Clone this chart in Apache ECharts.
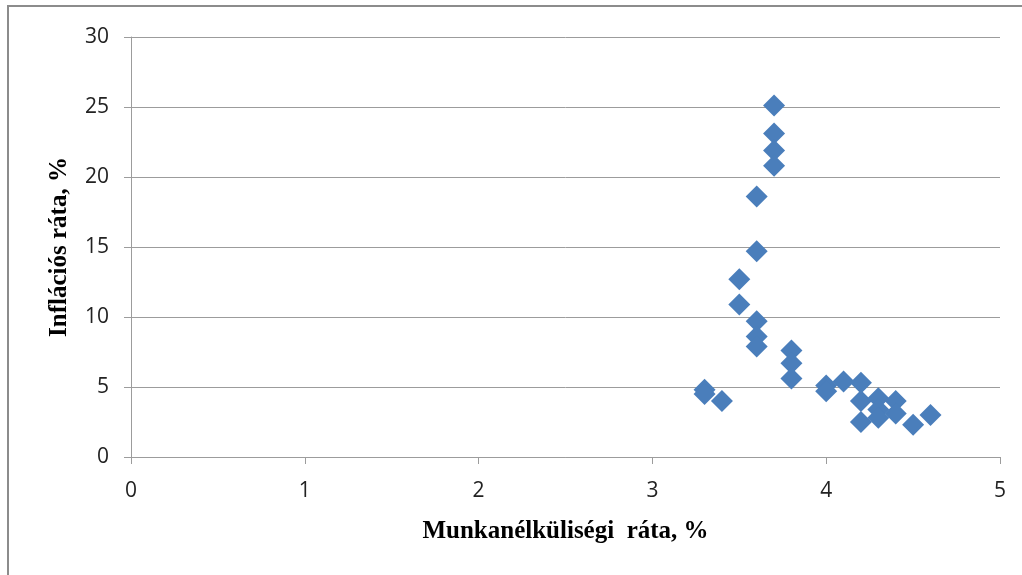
<!DOCTYPE html>
<html>
<head>
<meta charset="utf-8">
<style>html,body{margin:0;padding:0;background:#fff}#c{width:1022px;height:575px}</style>
<script src="https://cdn.jsdelivr.net/npm/echarts@6/dist/echarts.min.js"></script>
</head>
<body>
<div id="c"></div>
<script>
// Unemployment rate (%) and inflation rate (%) pairs
const unemployment = [3.7, 3.7, 3.7, 3.7, 3.6, 3.6, 3.6, 3.6, 3.6, 3.5, 3.5, 3.8, 3.8, 3.8, 3.3, 3.3, 3.4, 4.0, 4.0, 4.1, 4.2, 4.2, 4.2, 4.3, 4.3, 4.3, 4.4, 4.4, 4.5, 4.6];
const inflation    = [25.1, 23.1, 21.9, 20.8, 18.6, 14.7, 9.7, 8.6, 7.9, 12.7, 10.9, 7.6, 6.7, 5.6, 4.8, 4.5, 4.0, 5.1, 4.7, 5.4, 5.3, 4.0, 2.5, 4.2, 3.4, 2.8, 4.0, 3.1, 2.3, 3.0];
const xTicks = [0, 1, 2, 3, 4, 5];
const yTicks = [0, 5, 10, 15, 20, 25, 30];
const xTitle = 'Munkanélküliségi  ráta, %';
const yTitle = 'Inflációs ráta, %';

const points = unemployment.map((x, i) => [x, inflation[i]]);
const chart = echarts.init(document.getElementById('c'), null, {renderer: 'canvas'});
const gridColor = '#9c9c9c';
chart.setOption({
  animation: false,
  backgroundColor: '#fff',
  graphic: [{
    type: 'rect', shape: {x: 8, y: 6, width: 1030, height: 590},
    style: {fill: 'none', stroke: '#8c8c8c', lineWidth: 2}, z: -1
  }],
  grid: {left: 131, right: 22, top: 37, bottom: 118},
  xAxis: {
    type: 'value', min: xTicks[0], max: xTicks[xTicks.length - 1], interval: 1,
    name: xTitle, nameLocation: 'middle', nameGap: 62,
    nameTextStyle: {fontFamily: 'Liberation Serif', fontWeight: 'bold', fontSize: 25, color: '#000'},
    axisLine: {show: true, lineStyle: {color: gridColor, width: 1}},
    axisTick: {show: true, length: 7, lineStyle: {color: gridColor}},
    axisLabel: {margin: 24, fontFamily: 'Open Sans', fontSize: 21, color: '#222'},
    splitLine: {show: false}
  },
  yAxis: {
    type: 'value', min: yTicks[0], max: yTicks[yTicks.length - 1], interval: 5,
    name: yTitle, nameLocation: 'middle', nameGap: 59, nameRotate: 90,
    nameTextStyle: {fontFamily: 'Liberation Serif', fontWeight: 'bold', fontSize: 25, color: '#000'},
    axisLine: {show: true, lineStyle: {color: gridColor, width: 1}},
    axisTick: {show: true, length: 7, lineStyle: {color: gridColor}},
    axisLabel: {margin: 22, fontFamily: 'Open Sans', fontSize: 21, color: '#222'},
    splitLine: {show: true, lineStyle: {color: gridColor, width: 1}}
  },
  series: [{
    type: 'scatter', data: points, symbol: 'diamond', symbolSize: [22, 22],
    itemStyle: {color: '#4a7ebb', opacity: 1}
  }]
});
</script>
</body>
</html>
